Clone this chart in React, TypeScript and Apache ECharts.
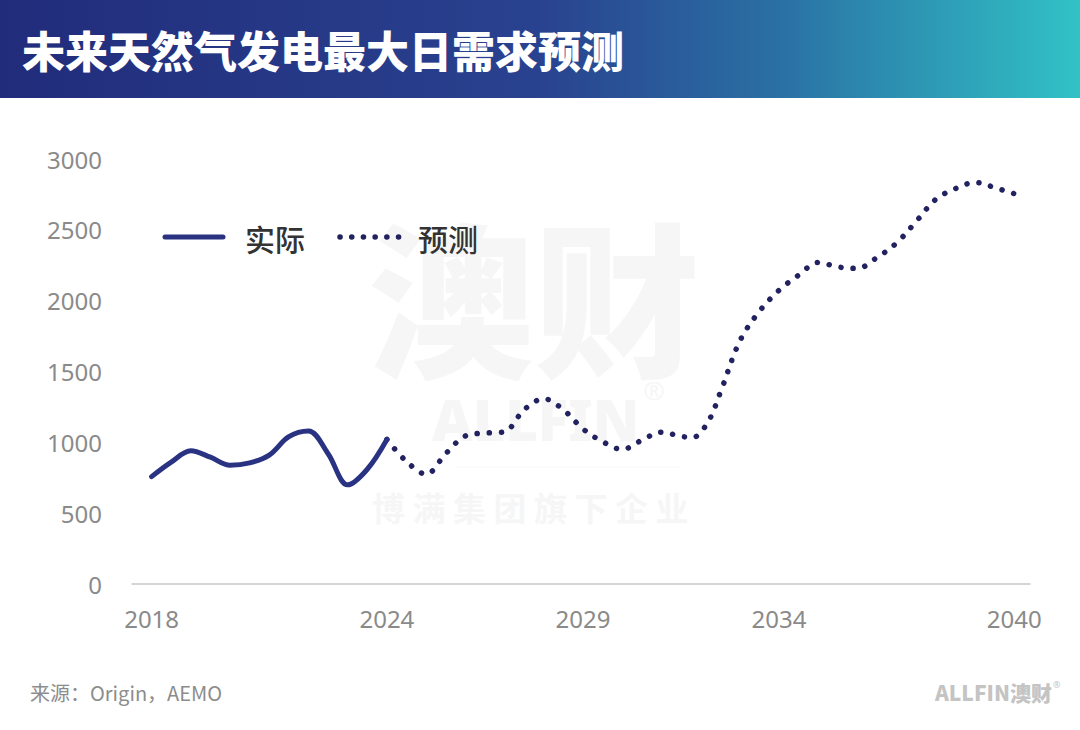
import React, { useEffect, useRef } from "react";
import * as echarts from "echarts";

const titleText = "未来天然气发电最大日需求预测";
const sourceText = "来源：Origin，AEMO";
const seriesNames = ["实际", "预测"];

const actualYears = [2018, 2018.5, 2019, 2019.5, 2020, 2020.5, 2021, 2021.5, 2022, 2022.5, 2023, 2023.5, 2024];
const actualValues = [758, 860, 940, 895, 838, 855, 910, 1040, 1080, 920, 700, 810, 1020];

const forecastYears = [
  2024, 2024.5, 2025, 2025.5, 2026, 2026.5, 2027, 2027.5, 2028, 2028.5, 2029, 2029.5, 2030,
  2030.5, 2031, 2031.5, 2031.8, 2032.2, 2032.5, 2033, 2033.5, 2034, 2034.5, 2035, 2035.5, 2036,
  2036.5, 2037, 2037.5, 2038, 2038.5, 2039, 2039.5, 2040,
];
const forecastValues = [
  1020, 865, 775, 920, 1045, 1065, 1075, 1230, 1308, 1230, 1095, 1005, 950,
  1015, 1072, 1042, 1035, 1150, 1350, 1715, 1925, 2073, 2180, 2270, 2238, 2228,
  2305, 2408, 2560, 2716, 2791, 2835, 2798, 2755,
];

const xTickLabels = [2018, 2024, 2029, 2034, 2040];
const yMin = 0;
const yMax = 3000;
const yStep = 500;

const actualColor = "#2a3282";
const forecastColor = "#21225f";

export default function App() {
  const ref = useRef<HTMLDivElement>(null);

  useEffect(() => {
    document.body.style.margin = "0";
    if (!ref.current) return;
    const chart = echarts.init(ref.current, null, { renderer: "svg" });
    const actualData = actualYears.map((y, i) => [y, actualValues[i]]);
    const forecastData = forecastYears.map((y, i) => [y, forecastValues[i]]);
    const wm = "#f6f6f6";

    chart.setOption({
      animation: false,
      backgroundColor: "#ffffff",
      grid: { left: 132, right: 50, top: 159, bottom: 146, containLabel: false },
      legend: { show: false },
      xAxis: {
        type: "value",
        min: 2017.5,
        max: 2040.4,
        interval: 0.5,
        axisLine: { show: true, lineStyle: { color: "#c8c8c8", width: 1.5 } },
        axisTick: { show: false },
        splitLine: { show: false },
        axisLabel: {
          showMinLabel: true,
          showMaxLabel: true,
          margin: 22,
          fontSize: 24,
          color: "#8a8a8a",
          fontFamily: "Noto Sans",
          formatter: (v: number) => (xTickLabels.includes(v) ? String(v) : ""),
        },
      },
      yAxis: {
        type: "value",
        min: yMin,
        max: yMax,
        interval: yStep,
        axisLine: { show: false },
        axisTick: { show: false },
        splitLine: { show: false },
        axisLabel: {
          margin: 30,
          fontSize: 24,
          color: "#8a8a8a",
          fontFamily: "Noto Sans",
          formatter: (v: number) => String(v),
        },
      },
      graphic: [
        {
          type: "rect",
          shape: { x: 0, y: 0, width: 1080, height: 98 },
          style: {
            fill: new echarts.graphic.LinearGradient(0, 0, 1, 0, [
              { offset: 0, color: "#212c7b" },
              { offset: 0.5, color: "#29428f" },
              { offset: 0.72, color: "#2a70a4" },
              { offset: 1, color: "#31c2c6" },
            ]),
          },
          z: 0,
        },
        {
          type: "text",
          x: 22,
          y: 49,
          style: {
            text: titleText,
            fill: "#ffffff",
            fontSize: 43,
            fontWeight: 900,
            fontFamily: "Noto Sans CJK SC",
            verticalAlign: "middle",
          },
          z: 1,
        },
        // watermark (one rich text block)
        {
          type: "text",
          x: 368,
          y: 207,
          style: {
            text: "{a|澳财}\n{b|ALLFIN}{c|®}\n{d|博 满 集 团 旗 下 企 业}",
            fill: wm,
            align: "left",
            verticalAlign: "top",
            rich: {
              a: {
                fontSize: 166,
                lineHeight: 170,
                fontWeight: 900,
                fontFamily: "Noto Sans CJK SC",
                fill: wm,
                color: wm,
              },
              b: {
                fontSize: 56,
                lineHeight: 84,
                fontWeight: 900,
                fontFamily: "Noto Sans",
                padding: [0, 0, 0, 64],
                fill: wm,
                color: wm,
              },
              c: {
                fontSize: 26,
                lineHeight: 84,
                fontFamily: "Noto Sans",
                verticalAlign: "top",
                padding: [0, 0, 0, 4],
                fill: wm,
                color: wm,
              },
              d: {
                fontSize: 33,
                lineHeight: 92,
                fontWeight: 700,
                fontFamily: "Noto Sans CJK SC",
                padding: [0, 0, 0, 4],
                fill: wm,
                color: wm,
              },
            },
          },
          z: -10,
        },
        {
          type: "line",
          shape: { x1: 455, y1: 467, x2: 680, y2: 467 },
          style: { stroke: "#f7f7f7", lineWidth: 1 },
          z: -10,
        },
        // legend
        {
          type: "line",
          shape: { x1: 165, y1: 237, x2: 223, y2: 237 },
          style: { stroke: actualColor, lineWidth: 5, lineCap: "round" },
          z: 5,
        },
        {
          type: "text",
          x: 245,
          y: 238,
          style: {
            text: seriesNames[0],
            fill: "#333333",
            fontSize: 30,
            fontWeight: 500,
            fontFamily: "Noto Sans CJK SC",
            verticalAlign: "middle",
          },
          z: 5,
        },
        {
          type: "line",
          shape: { x1: 340, y1: 237, x2: 400, y2: 237 },
          style: { stroke: forecastColor, lineWidth: 5.5, lineCap: "round", lineDash: [0.1, 11.6] },
          z: 5,
        },
        {
          type: "text",
          x: 418,
          y: 238,
          style: {
            text: seriesNames[1],
            fill: "#333333",
            fontSize: 30,
            fontWeight: 500,
            fontFamily: "Noto Sans CJK SC",
            verticalAlign: "middle",
          },
          z: 5,
        },
        // footer
        {
          type: "text",
          x: 30,
          y: 692,
          style: {
            text: sourceText,
            fill: "#8c8c8c",
            fontSize: 20,
            fontFamily: "Noto Sans CJK SC",
            verticalAlign: "middle",
          },
        },
        {
          type: "text",
          x: 1052,
          y: 692,
          style: {
            text: "ALLFIN澳财",
            fill: "#c4c4c4",
            fontSize: 21,
            fontWeight: 900,
            fontFamily: "Noto Sans CJK SC",
            align: "right",
            verticalAlign: "middle",
          },
        },
        {
          type: "text",
          x: 1053,
          y: 684,
          style: { text: "®", fill: "#c4c4c4", fontSize: 9, fontFamily: "Noto Sans", verticalAlign: "middle" },
        },
      ],
      series: [
        {
          name: seriesNames[0],
          type: "line",
          data: actualData,
          smooth: 0.35,
          showSymbol: false,
          symbol: "none",
          lineStyle: { color: actualColor, width: 5, cap: "round", join: "round" },
          itemStyle: { color: actualColor },
          z: 3,
        },
        {
          name: seriesNames[1],
          type: "line",
          data: forecastData,
          smooth: 0.35,
          showSymbol: false,
          symbol: "none",
          lineStyle: { color: forecastColor, width: 5.5, type: [0.1, 12], cap: "round" },
          itemStyle: { color: forecastColor },
          z: 2,
        },
      ],
    });
    return () => chart.dispose();
  }, []);

  return (
    <div
      ref={ref}
      style={{ position: "fixed", left: 0, top: 0, width: 1080, height: 730, background: "#fff" }}
    />
  );
}
